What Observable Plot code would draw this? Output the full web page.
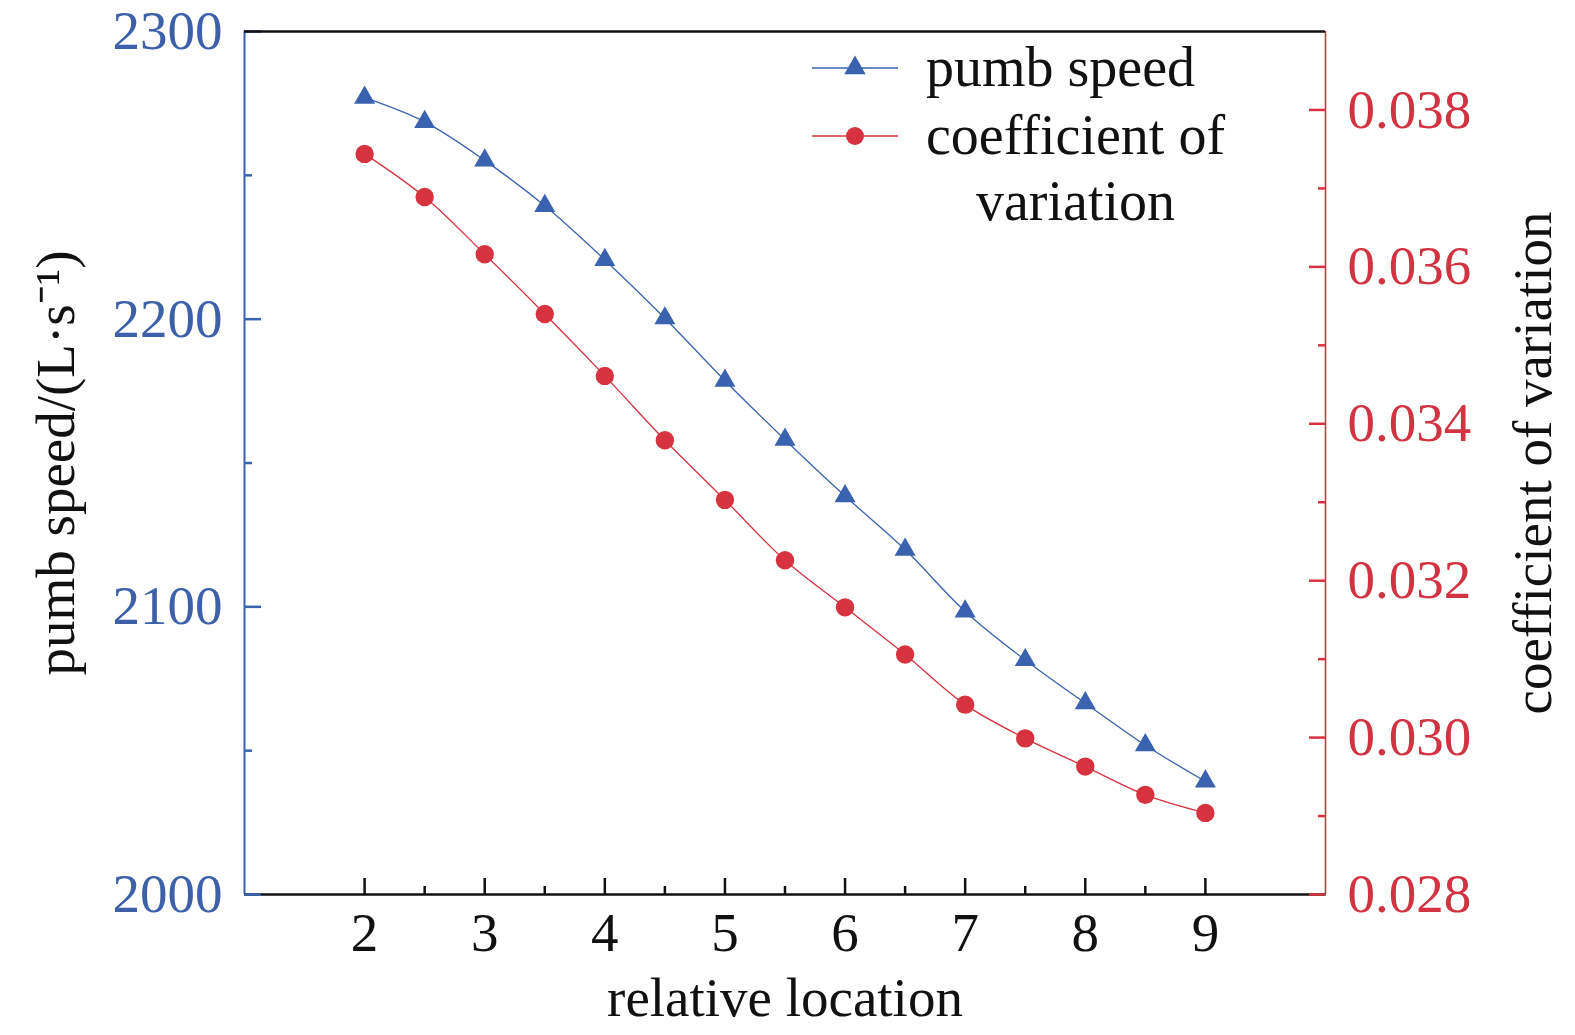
<!DOCTYPE html>
<html>
<head>
<meta charset="utf-8">
<script src="https://cdn.jsdelivr.net/npm/d3@7"></script>
<script src="https://cdn.jsdelivr.net/npm/@observablehq/plot@0.6"></script>
<style>
  html, body { margin: 0; padding: 0; background: #fff; }
  #wrap { position: relative; width: 1575px; height: 1035px; font-family: "Liberation Serif", "Times New Roman", serif; }
  #legend { position: absolute; left: 812px; top: 34px; font-size: 56px; color: #111; }
  .row { display: flex; align-items: flex-start; }
  .sw { width: 86px; height: 68px; margin-right: 28px; flex: none; }
  .lbl { line-height: 66px; text-align: center; }
</style>
</head>
<body>
<div id="wrap">
  <div id="chart"></div>
  <div id="legend"></div>
</div>
<script>
// ---- data ----
const locations = [2, 2.5, 3, 3.5, 4, 4.5, 5, 5.5, 6, 6.5, 7, 7.5, 8, 8.5, 9];
const pumpSpeed = [2277, 2268.6, 2255.2, 2239.4, 2220.6, 2200.3, 2178.6, 2158.1, 2138.5, 2119.9, 2098.4, 2081.5, 2066.5, 2051.9, 2039.3];
const coefVariation = [0.03744, 0.03689, 0.03616, 0.0354, 0.03461, 0.03379, 0.03303, 0.03226, 0.03166, 0.03106, 0.03042, 0.02999, 0.02963, 0.02927, 0.02904];

const xMajorTicks = [2, 3, 4, 5, 6, 7, 8, 9];
const xMinorTicks = [2.5, 3.5, 4.5, 5.5, 6.5, 7.5, 8.5];
const leftMajorTicks = [2000, 2100, 2200, 2300];
const leftMinorTicks = [2050, 2150, 2250];
const rightMajorTicks = [0.028, 0.030, 0.032, 0.034, 0.036, 0.038];
const rightMinorTicks = [0.029, 0.031, 0.033, 0.035, 0.037];

const xDomain = [1, 10];
const leftDomain = [2000, 2300];
const rightDomain = [0.028, 0.039];

const seriesNames = ["pumb speed", "coefficient of\nvariation"];
const xTitle = "relative location";
const leftTitle = "pumb speed/(L·s⁻¹)";
const rightTitle = "coefficient of variation";

// ---- styling ----
const BLUE = "#3a62ae";
const BLUE_TXT = "#3d60a8";
const RED = "#d7323f";
const RED_TXT = "#d13342";
const INK = "#111";
const FS = 55;

// map right-axis values into the left y scale
const cvToY = d3.scaleLinear().domain(rightDomain).range(leftDomain);

const data = locations.map((x, i) => ({
  x,
  speed: pumpSpeed[i],
  cvY: cvToY(coefVariation[i])
}));

const tickOpts = (anchor, size, color) => ({ anchor, tickSize: size, stroke: color, strokeWidth: 2.5, fill: "none", label: null });
const textOpts = (anchor, pad, color, fmt) => ({ anchor, tickSize: 0, tickPadding: pad, fill: color, fontSize: FS, label: null, tickFormat: fmt });

const chart = Plot.plot({
  width: 1575,
  height: 1035,
  marginLeft: 244,
  marginRight: 250,
  marginTop: 31,
  marginBottom: 141,
  x: { domain: xDomain, axis: null },
  y: { domain: leftDomain, axis: null },
  style: { fontFamily: "'Liberation Serif', 'Times New Roman', serif", fontSize: FS + "px", background: "white", overflow: "visible" },
  marks: [
    // axis lines
    Plot.ruleX([xDomain[0]], { stroke: BLUE, strokeWidth: 2 }),
    Plot.ruleX([xDomain[1]], { stroke: RED, strokeWidth: 1.6 }),
    Plot.ruleY([leftDomain[0]], { stroke: INK, strokeWidth: 2.6 }),

    // x axis (inward ticks)
    Plot.axisX(xMajorTicks, tickOpts("bottom", -16, INK)),
    Plot.axisX(xMinorTicks, tickOpts("bottom", -8, INK)),
    Plot.axisX(xMajorTicks, textOpts("bottom", 17, INK, d => String(d))),

    // left axis
    Plot.axisY(leftMajorTicks, tickOpts("left", -17, BLUE)),
    Plot.axisY(leftMinorTicks, tickOpts("left", -8, BLUE)),
    Plot.axisY(leftMajorTicks, textOpts("left", 22, BLUE_TXT, d => String(d))),

    // right axis
    Plot.axisY(rightMajorTicks.map(cvToY), tickOpts("right", -17, RED)),
    Plot.axisY(rightMinorTicks.map(cvToY), tickOpts("right", -8, RED)),
    Plot.axisY(rightMajorTicks.map(cvToY), textOpts("right", 22, RED_TXT, d => d3.format(".3f")(cvToY.invert(d)))),

    // top border
    Plot.ruleY([leftDomain[1]], { stroke: INK, strokeWidth: 2.6 }),

    // axis titles
    Plot.text([xTitle], { frameAnchor: "bottom", lineAnchor: "middle", textAnchor: "middle", dy: 104, fill: INK, fontSize: FS }),
    Plot.text([leftTitle], { frameAnchor: "left", rotate: -90, textAnchor: "middle", lineAnchor: "middle", dx: -188, fill: INK, fontSize: FS }),
    Plot.text([rightTitle], { frameAnchor: "right", rotate: -90, textAnchor: "middle", lineAnchor: "middle", dx: 208, fill: INK, fontSize: FS }),

    // series
    Plot.line(data, { x: "x", y: "speed", stroke: BLUE, strokeWidth: 1.3, curve: "catmull-rom" }),
    Plot.line(data, { x: "x", y: "cvY", stroke: RED, strokeWidth: 1.3, curve: "catmull-rom" }),
    Plot.dot(data, { x: "x", y: "speed", symbol: "triangle", r: 7.8, fill: BLUE, stroke: "none" }),
    Plot.dot(data, { x: "x", y: "cvY", r: 9.2, fill: RED, stroke: "none" })
  ]
});
document.getElementById("chart").appendChild(chart);

// ---- legend ----
const legend = d3.select("#legend");
const items = [
  { name: seriesNames[0], color: BLUE, symbol: d3.symbolTriangle, size: 200 },
  { name: seriesNames[1], color: RED, symbol: d3.symbolCircle, size: Math.PI * 9 * 9 }
];
items.forEach(it => {
  const row = legend.append("div").attr("class", "row");
  const sw = row.append("svg").attr("class", "sw").attr("viewBox", "0 0 86 68");
  sw.append("line").attr("x1", 0).attr("x2", 86).attr("y1", 34).attr("y2", 34)
    .attr("stroke", it.color).attr("stroke-width", 1.3);
  sw.append("path").attr("transform", "translate(43,34)")
    .attr("d", d3.symbol(it.symbol, it.size)()).attr("fill", it.color);
  const lbl = row.append("div").attr("class", "lbl");
  it.name.split("\n").forEach(t => lbl.append("div").text(t));
});
</script>
</body>
</html>
